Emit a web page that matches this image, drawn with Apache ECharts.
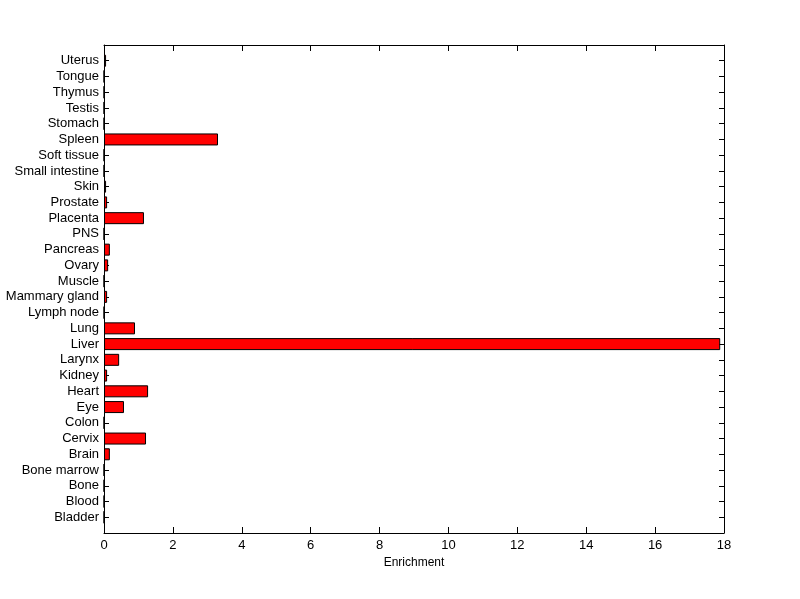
<!DOCTYPE html>
<html>
<head>
<meta charset="utf-8">
<script src="https://cdn.jsdelivr.net/npm/echarts@6/dist/echarts.min.js"></script>
<style>html,body{margin:0;padding:0;background:#fff;}#c{width:800px;height:599px;}</style>
</head>
<body>
<div id="c"></div>
<script>
// Categories from bottom to top
const tissues = ['Bladder','Blood','Bone','Bone marrow','Brain','Cervix','Colon','Eye','Heart','Kidney','Larynx','Liver','Lung','Lymph node','Mammary gland','Muscle','Ovary','Pancreas','PNS','Placenta','Prostate','Skin','Small intestine','Soft tissue','Spleen','Stomach','Testis','Thymus','Tongue','Uterus'];
const enrichment = [0,0,0,0,0.17,1.22,0,0.58,1.28,0.09,0.44,17.89,0.90,0,0.09,0,0.12,0.17,0,1.16,0.09,0.06,0,0,3.31,0,0,0,0,0.06];
const xTicks = [0,2,4,6,8,10,12,14,16,18];

const cats = [''].concat(tissues).concat(['']);
const vals = [null].concat(enrichment).concat([null]);

const font = 'Arial, "Liberation Sans", Helvetica, sans-serif';
const chart = echarts.init(document.getElementById('c'), null, {renderer:'canvas'});
const lineStyle = {color:'#000', width:1};
chart.setOption({
  animation:false,
  backgroundColor:'#fff',
  grid:{left:104, right:76, top:45, bottom:66, containLabel:false},
  xAxis:[{
    type:'value', position:'bottom', min:xTicks[0], max:xTicks[xTicks.length-1], interval:2,
    name:'Enrichment', nameLocation:'middle', nameGap:22,
    nameTextStyle:{color:'#000', fontSize:12, fontFamily:font},
    axisLine:{show:true, onZero:false, lineStyle:lineStyle},
    axisTick:{show:true, inside:true, length:6, lineStyle:lineStyle},
    axisLabel:{color:'#000', fontSize:13, fontFamily:font, margin:6},
    splitLine:{show:false}
  },{
    type:'value', position:'top', min:xTicks[0], max:xTicks[xTicks.length-1], interval:2,
    axisLine:{show:true, onZero:false, lineStyle:lineStyle},
    axisTick:{show:true, inside:true, length:6, lineStyle:lineStyle},
    axisLabel:{show:false},
    splitLine:{show:false}
  }],
  yAxis:[{
    type:'category', data:cats, boundaryGap:false, position:'left',
    axisLine:{show:true, onZero:false, lineStyle:lineStyle},
    axisTick:{show:true, inside:true, length:5, interval:0, lineStyle:lineStyle},
    axisLabel:{color:'#000', fontSize:13, fontFamily:font, interval:0, margin:5},
    splitLine:{show:false}
  },{
    type:'category', data:cats, boundaryGap:false, position:'right',
    axisLine:{show:true, onZero:false, lineStyle:lineStyle},
    axisTick:{show:true, inside:true, length:5, interval:0, lineStyle:lineStyle},
    axisLabel:{show:false},
    splitLine:{show:false}
  }],
  series:[{
    type:'bar', xAxisIndex:0, yAxisIndex:0, data:vals,
    barWidth:12,
    itemStyle:{color:'#ff0000', borderColor:'#000', borderWidth:1}
  }]
});
</script>
</body>
</html>
